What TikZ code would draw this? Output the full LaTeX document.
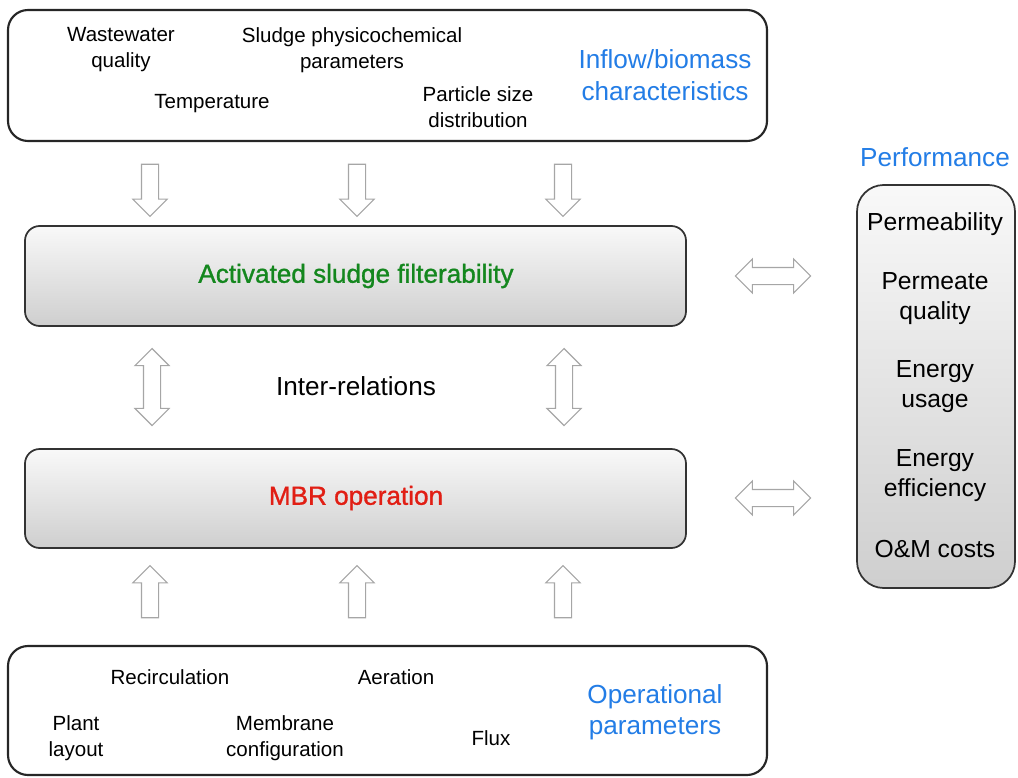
\documentclass[tikz,border=0pt]{standalone}
\usepackage{fontspec}
\setmainfont{Liberation Sans}
\newfontfamily\titlefont{Liberation Sans}[FakeBold=1.2]
\usetikzlibrary{shapes.arrows}
\definecolor{tblue}{RGB}{35,125,230}
\definecolor{tgreen}{RGB}{20,135,30}
\definecolor{tred}{RGB}{225,30,20}
\begin{document}
\begin{tikzpicture}[x=0.75pt,y=-0.75pt,
  frame/.style={draw=black!85, line width=1.6pt, rounded corners=15pt, fill=white, inner sep=0pt},
  gradbox/.style={draw=black!80, line width=1.3pt, rounded corners=11pt, top color=gray!5, bottom color=gray!38, inner sep=0pt},
  item/.style={font=\fontsize{15.4}{19.5}\selectfont, align=center, inner sep=0pt},
  bigitem/.style={font=\fontsize{19.6}{23}\selectfont, align=center, inner sep=0pt},
  titleitem/.style={font=\titlefont\fontsize{19.6}{23}\selectfont, align=center, inner sep=0pt},
  heading/.style={font=\fontsize{19.6}{23.5}\selectfont, align=center, inner sep=0pt, text=tblue},
  perfitem/.style={font=\fontsize{18.5}{22.5}\selectfont, align=center, inner sep=0pt},
  sarrow/.style={single arrow, draw=gray!70, fill=white, line width=0.8pt, inner sep=6pt,
     single arrow head extend=6.4pt, minimum height=39pt},
  darrow/.style={double arrow, draw=gray!70, fill=white, line width=0.8pt, inner sep=6pt,
     double arrow head extend=6.4pt, minimum height=57pt}
]
\useasboundingbox (0,0) rectangle (1018,778);
% boxes
\node[frame, minimum width=569.25pt, minimum height=98.25pt] (top) at (387.5,75.5) {};
\node[gradbox, minimum width=495.75pt, minimum height=75pt] (filt) at (355.5,276) {};
\node[gradbox, minimum width=495.75pt, minimum height=74.25pt] (mbr) at (355.5,498.5) {};
\node[frame, minimum width=569.25pt, minimum height=96.75pt] (bot) at (387.5,710.5) {};
\node[gradbox, rounded corners=20pt, minimum width=118.5pt, minimum height=302.25pt] (perf) at (936,386.5) {};

% top box texts
\node[item] (ww) at (121,50) {Wastewater\\quality};
\node[item] (sp) at (352,50) {Sludge physicochemical\\parameters};
\node[item] (temp) at (212,104) {Temperature};
\node[item] (psd) at (478,107) {Particle size\\distribution};
\node[heading] (inflow) at (665,75) {Inflow/biomass\\characteristics};

% middle texts
\node[titleitem, text=tgreen] (filttxt) at (356,276) {Activated sludge filterability};
\node[bigitem] (inter) at (356,386) {Inter-relations};
\node[titleitem, text=tred] (mbrtxt) at (356,498) {MBR operation};

% performance
\node[heading] (perfl) at (935,157) {Performance};
\node[perfitem] (p1) at (935,224) {Permeability};
\node[perfitem] (p2) at (935,299) {Permeate\\quality};
\node[perfitem] (p3) at (935,387) {Energy\\usage};
\node[perfitem] (p4) at (935,476) {Energy\\efficiency};
\node[perfitem] (p5) at (935,549) {O\&M costs};

% bottom box texts
\node[item] (rec) at (170,677) {Recirculation};
\node[item] (aer) at (396,677) {Aeration};
\node[item] (plant) at (76,738) {Plant\\layout};
\node[item] (memb) at (285,738) {Membrane\\configuration};
\node[item] (flux) at (491,738) {Flux};
\node[heading] (oper) at (655,712) {Operational\\parameters};

% block arrows
\foreach \n/\x in {d1/150,d2/357,d3/563}
  \node[sarrow, shape border rotate=270] (\n) at (\x,186) {};
\foreach \n/\x in {u1/150,u2/357,u3/563}
  \node[sarrow, shape border rotate=90] (\n) at (\x,596) {};
\node[darrow, shape border rotate=90, minimum height=57.75pt] (v1) at (152,387) {};
\node[darrow, shape border rotate=90, minimum height=57.75pt] (v2) at (564,387) {};
\node[darrow, minimum height=56.5pt] (h1) at (773,276) {};
\node[darrow, minimum height=56.5pt] (h2) at (773,498) {};
\end{tikzpicture}
\end{document}
